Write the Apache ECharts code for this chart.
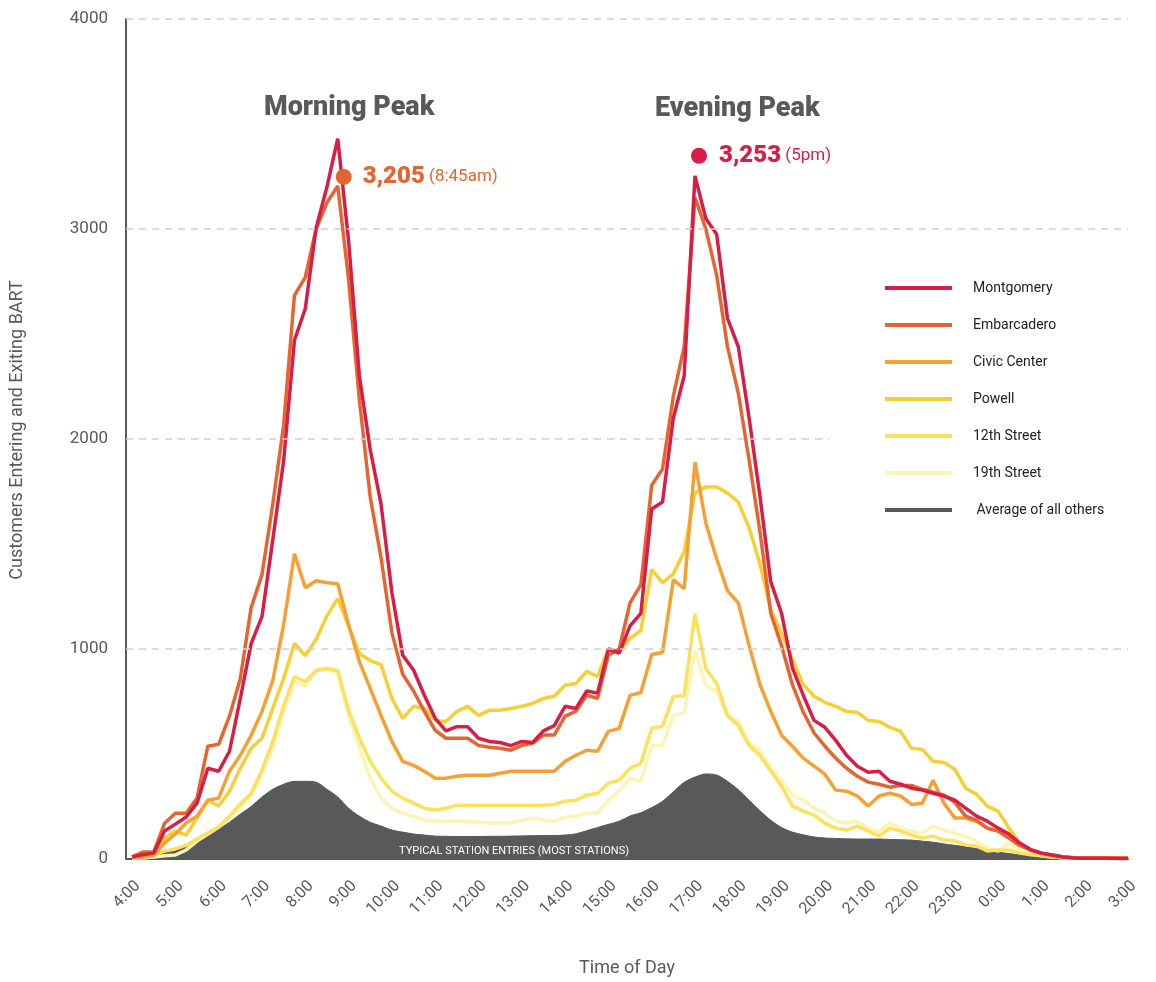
<!DOCTYPE html>
<html>
<head>
<meta charset="utf-8">
<title>BART station entries by time of day</title>
<script src="https://cdn.jsdelivr.net/npm/echarts@6.0.0/dist/echarts.min.js"></script>
<style>
  html, body { margin: 0; padding: 0; background: #fff; }
  #chart { width: 1156px; height: 982px; }
</style>
</head>
<body>
<div id="chart"></div>
<script>
// 15-minute samples, 4:00 through 3:00 the next morning
const startHour = 4
const stepHours = 0.25
const hourLabels = ['4:00', '5:00', '6:00', '7:00', '8:00', '9:00', '10:00', '11:00', '12:00', '13:00',
  '14:00', '15:00', '16:00', '17:00', '18:00', '19:00', '20:00', '21:00', '22:00', '23:00',
  '0:00', '1:00', '2:00', '3:00']
const yTicks = [0, 1000, 2000, 3000, 4000]

const montgomery = [10, 20, 28, 133, 166, 200, 266, 432, 418, 513,
  765, 1026, 1154, 1520, 1895, 2470, 2620, 3005, 3200, 3430,
  2945, 2300, 1950, 1690, 1270, 970, 900, 780, 670, 610,
  630, 630, 575, 560, 555, 540, 560, 555, 610, 635,
  727, 717, 800, 790, 1000, 980, 1110, 1170, 1667, 1700,
  2100, 2300, 3253, 3050, 2975, 2575, 2440, 2100, 1730, 1320,
  1170, 910, 780, 660, 627, 565, 494, 442, 413, 418,
  370, 356, 337, 328, 313, 300, 280, 242, 204, 180,
  147, 119, 76, 45, 28, 19, 10, 5, 4, 3,
  3, 2, 2]
const embarcadero = [10, 33, 33, 170, 218, 218, 290, 537, 546, 680,
  860, 1197, 1354, 1690, 2066, 2684, 2770, 3000, 3125, 3205,
  2760, 2185, 1724, 1435, 1078, 880, 800, 703, 613, 575,
  575, 575, 541, 532, 527, 518, 541, 551, 590, 590,
  680, 703, 780, 765, 970, 1000, 1220, 1305, 1780, 1857,
  2204, 2440, 3150, 3000, 2780, 2440, 2218, 1900, 1560, 1170,
  1015, 830, 700, 600, 537, 480, 432, 394, 366, 356,
  342, 350, 350, 332, 318, 304, 270, 204, 185, 147,
  133, 100, 67, 43, 28, 18, 10, 6, 5, 4,
  3, 3, 3]
const civicCenter = [5, 8, 19, 76, 119, 171, 204, 280, 290, 418,
  494, 589, 703, 850, 1116, 1453, 1292, 1325, 1316, 1311,
  1116, 940, 812, 684, 560, 465, 446, 418, 385, 385,
  394, 399, 399, 399, 408, 418, 418, 418, 418, 418,
  465, 494, 518, 513, 608, 622, 779, 793, 974, 983,
  1330, 1287, 1890, 1600, 1430, 1278, 1220, 1016, 831, 703,
  589, 537, 480, 442, 404, 328, 323, 300, 252, 300,
  313, 300, 260, 266, 375, 266, 195, 195, 180, 147,
  133, 100, 62, 43, 28, 18, 10, 6, 5, 4,
  3, 3, 3]
const powell = [5, 19, 24, 100, 133, 114, 195, 280, 252, 323,
  432, 527, 575, 717, 860, 1026, 969, 1045, 1159, 1240,
  1110, 978, 945, 926, 765, 670, 727, 717, 660, 655,
  703, 727, 684, 708, 708, 717, 727, 741, 765, 775,
  827, 836, 893, 870, 1000, 988, 1050, 1088, 1378, 1316,
  1358, 1463, 1743, 1772, 1772, 1743, 1700, 1577, 1406, 1188,
  1074, 950, 831, 775, 746, 727, 703, 698, 660, 655,
  627, 608, 527, 522, 465, 460, 427, 337, 309, 252,
  228, 147, 76, 43, 28, 18, 10, 6, 5, 4,
  3, 3, 3]
const street12 = [3, 8, 20, 38, 48, 66, 95, 124, 152, 204,
  261, 313, 423, 560, 731, 869, 845, 898, 907, 898,
  708, 575, 465, 385, 323, 290, 266, 242, 233, 242,
  256, 256, 256, 256, 256, 256, 256, 256, 256, 260,
  275, 280, 304, 313, 361, 375, 432, 456, 622, 632,
  774, 779, 1168, 907, 836, 684, 636, 541, 494, 418,
  347, 252, 228, 209, 171, 147, 138, 157, 133, 109,
  147, 133, 114, 100, 109, 90, 86, 67, 62, 38,
  43, 43, 28, 20, 15, 10, 6, 4, 3, 3,
  3, 3, 3]
const street19 = [3, 5, 10, 15, 19, 43, 85, 119, 152, 195,
  242, 304, 404, 527, 694, 845, 822, 898, 902, 884,
  684, 527, 385, 290, 242, 218, 204, 185, 180, 180,
  180, 180, 176, 171, 171, 171, 185, 195, 185, 180,
  200, 204, 218, 218, 280, 323, 385, 370, 541, 541,
  684, 694, 993, 827, 798, 679, 656, 551, 518, 432,
  375, 304, 280, 242, 218, 180, 171, 180, 147, 133,
  171, 147, 133, 124, 157, 138, 124, 109, 86, 52,
  38, 76, 43, 25, 15, 10, 6, 4, 3, 3,
  3, 3, 3]
const othersAvg = [10, 20, 28, 38, 52, 66, 85, 110, 142, 175,
  214, 250, 295, 332, 356, 370, 370, 366, 332, 295,
  242, 204, 175, 157, 138, 128, 119, 114, 109, 108,
  107, 107, 107, 108, 108, 109, 110, 111, 112, 112,
  114, 120, 135, 150, 165, 180, 205, 220, 245, 275,
  320, 365, 390, 405, 400, 370, 330, 280, 230, 185,
  150, 128, 115, 105, 100, 98, 96, 95, 95, 95,
  93, 92, 90, 85, 80, 72, 65, 58, 50, 42,
  33, 26, 20, 15, 12, 10, 8, 6, 5, 5,
  5, 5, 5]

const times = montgomery.map((_, i) => startHour + i * stepHours)
const pairs = arr => arr.map((v, i) => [times[i], v])

const xMin = 3.86
const xMax = 27
const fontFamily = 'Roboto, "Noto Sans", sans-serif'
const axisGray = '#58595b'

// dashed guides; the 2000 one stops short of the legend
const guideEnds = [27, 20.1, 27, 27]
const guides = yTicks.slice(1).map((v, i) => [{ coord: [xMin, v] }, { coord: [guideEnds[i], v] }])

const lineSeries = (name, data, color) => ({
  name, type: 'line', data: pairs(data), showSymbol: false, symbol: 'none',
  lineStyle: { width: 3.5, color }, itemStyle: { color }, emphasis: { disabled: true },
})

const peakLabel = (color, note, distance) => ({
  show: true, position: 'right', distance,
  formatter: p => '{v|' + p.value.toLocaleString('en-US') + '}{t| ' + note + '}',
  rich: {
    v: { fontSize: 24, fontWeight: 900, color, fontFamily },
    t: { fontSize: 17, color, fontFamily },
  },
})

const morning = lineSeries('Embarcadero', embarcadero, '#e4652f')
morning.markPoint = {
  silent: true,
  symbol: 'circle', symbolSize: 16, symbolOffset: [6, -9],
  itemStyle: { color: '#e4652f' },
  label: peakLabel('#e4652f', '(8:45am)', 11),
  data: [{ coord: [times[19], embarcadero[19]], value: embarcadero[19] }],
}
const evening = lineSeries('Montgomery', montgomery, '#d81e47')
evening.markPoint = {
  silent: true,
  symbol: 'circle', symbolSize: 16, symbolOffset: [4, -20],
  itemStyle: { color: '#d81e47' },
  label: peakLabel('#d81e47', '(5pm)', 12),
  data: [{ coord: [times[52], montgomery[52]], value: montgomery[52] }],
}

const chart = echarts.init(document.getElementById('chart'), null, { renderer: 'canvas' })
chart.setOption({
  animation: false,
  textStyle: { fontFamily },
  grid: { left: 126, right: 28, top: 19, bottom: 121 },
  legend: {
    orient: 'vertical', left: 880, top: 273,
    icon: 'rect', itemWidth: 67, itemHeight: 4, itemGap: 17,
    selectedMode: false,
    textStyle: { fontSize: 14, color: '#222', lineHeight: 20, padding: [0, 0, 0, 16], fontFamily },
    data: ['Montgomery', 'Embarcadero', 'Civic Center', 'Powell', '12th Street', '19th Street', ' Average of all others'],
  },
  xAxis: {
    type: 'value', min: xMin, max: xMax,
    name: 'Time of Day', nameLocation: 'middle', nameGap: 100,
    nameTextStyle: { fontSize: 18, color: axisGray },
    axisLine: { lineStyle: { color: axisGray, width: 2 } },
    axisTick: { show: false },
    splitLine: { show: false },
    axisLabel: {
      customValues: hourLabels.map((_, i) => startHour + i),
      formatter: v => hourLabels[Math.round(v) - startHour],
      rotate: 45, margin: 19, verticalAlign: 'top',
      fontSize: 16, color: axisGray,
    },
  },
  yAxis: {
    type: 'value', min: 0, max: 4000, interval: 1000,
    name: 'Customers Entering and Exiting BART', nameLocation: 'middle', nameGap: 100,
    nameTextStyle: { fontSize: 18, color: axisGray, padding: [0, 0, 0, 18] },
    axisLine: { show: true, lineStyle: { color: axisGray, width: 2 } },
    axisTick: { show: false },
    splitLine: { show: false },
    axisLabel: { fontSize: 17, color: axisGray, margin: 18, formatter: v => String(v) },
  },
  series: [
    {
      name: ' Average of all others', type: 'line', data: pairs(othersAvg),
      showSymbol: false, symbol: 'none', smooth: 0.3,
      lineStyle: { width: 1, color: axisGray }, itemStyle: { color: axisGray },
      areaStyle: { color: axisGray, opacity: 1 }, emphasis: { disabled: true },
      markLine: {
        silent: true, symbol: 'none', label: { show: false },
        lineStyle: { color: '#cfcfcf', width: 1.5, type: [7, 6] },
        data: guides,
      },
    },
    lineSeries('19th Street', street19, '#fcf3b6'),
    lineSeries('12th Street', street12, '#fbe15c'),
    lineSeries('Powell', powell, '#f6cf34'),
    lineSeries('Civic Center', civicCenter, '#f5a033'),
    morning,
    evening,
  ],
  graphic: [
    { type: 'text', z: 100, left: 264, top: 95, style: { text: 'Morning Peak', fontSize: 27, fontWeight: 900, fill: axisGray, fontFamily } },
    { type: 'text', z: 100, left: 655, top: 96, style: { text: 'Evening Peak', fontSize: 27, fontWeight: 900, fill: axisGray, fontFamily } },
    { type: 'text', z: 100, left: 399, top: 846, style: { text: 'TYPICAL STATION ENTRIES (MOST STATIONS)', fontSize: 11, fill: '#fff', fontFamily } },
  ],
})
</script>
</body>
</html>
